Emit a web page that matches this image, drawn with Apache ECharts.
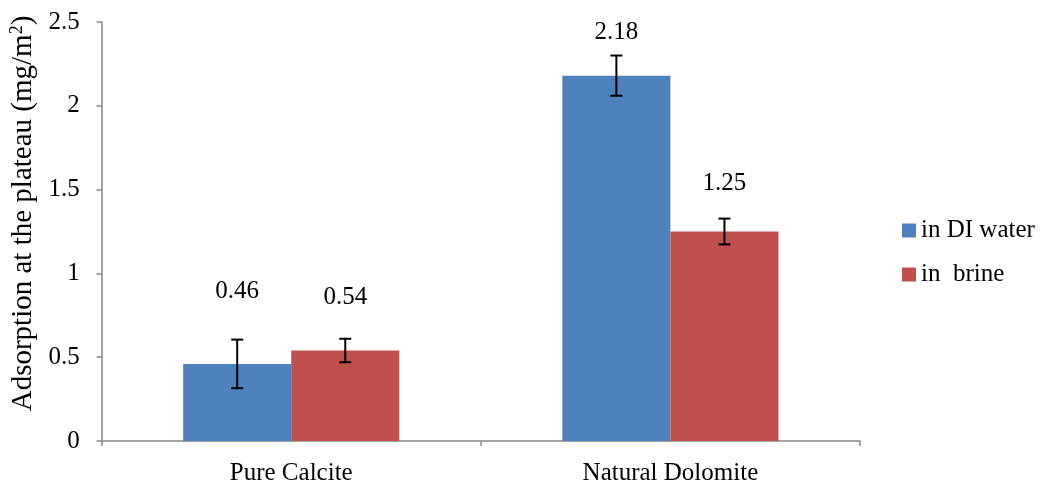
<!DOCTYPE html>
<html><head><meta charset="utf-8">
<script src="https://cdn.jsdelivr.net/npm/echarts@6/dist/echarts.min.js"></script>
<style>html,body{margin:0;padding:0;background:#fff}#c{width:1042px;height:488px}</style>
</head><body><div id="c"></div>
<script>
const categories = ['Pure Calcite', 'Natural Dolomite'];
const seriesNames = ['in DI water', 'in  brine'];
const diWater = [0.46, 2.18];
const brine = [0.54, 1.25];
const diWaterErr = [0.145, 0.12];
const brineErr = [0.07, 0.077];
const yTicks = [0, 0.5, 1, 1.5, 2, 2.5];

const FONT = '"Liberation Serif", "Times New Roman", serif';
const FS = 25;
const colors = ['#4F81BD', '#C0504D'];
// style: label gap above bar, [series][category]
const labelDist = [[60, 31], [41, 36]];

const chart = echarts.init(document.getElementById('c'), null, {renderer: 'canvas'});

function errSeries(vals, errs, seriesIndex) {
  return {
    type: 'custom',
    name: seriesNames[seriesIndex] + ' err',
    z: 10,
    data: vals.map((v, i) => [i, v - errs[i], v + errs[i]]),
    renderItem: function (params, api) {
      const ci = api.value(0);
      const lo = api.coord([ci, api.value(1)]);
      const hi = api.coord([ci, api.value(2)]);
      const bw = api.size([1, 0])[0];
      const barW = bw * 0.285;
      const x = lo[0] + (seriesIndex === 0 ? -barW / 2 : barW / 2);
      const cap = 6;
      const st = {stroke: '#000', lineWidth: 2};
      return {type: 'group', children: [
        {type: 'line', shape: {x1: x, y1: lo[1], x2: x, y2: hi[1]}, style: st},
        {type: 'line', shape: {x1: x - cap, y1: lo[1], x2: x + cap, y2: lo[1]}, style: st},
        {type: 'line', shape: {x1: x - cap, y1: hi[1], x2: x + cap, y2: hi[1]}, style: st}
      ]};
    }
  };
}

function barSeries(vals, si) {
  return {
    type: 'bar',
    name: seriesNames[si],
    data: vals.map((v, i) => ({
      value: v,
      label: {show: true, position: 'top', distance: labelDist[si][i],
        formatter: String(v), fontFamily: FONT, fontSize: FS, color: '#000'}
    })),
    itemStyle: {color: colors[si]},
    barGap: '0%',
    barCategoryGap: '43%'
  };
}

chart.setOption({
  animation: false,
  textStyle: {fontFamily: FONT},
  grid: {left: 100, right: 182, top: 22, bottom: 47},
  legend: {
    orient: 'vertical', left: 897, top: 213, itemGap: 19,
    itemWidth: 14, itemHeight: 14, icon: 'rect',
    data: seriesNames,
    textStyle: {fontFamily: FONT, fontSize: FS, color: '#000'}
  },
  xAxis: {
    type: 'category', data: categories,
    axisLine: {lineStyle: {color: '#868686', width: 1.5}},
    axisTick: {show: true, length: 5, lineStyle: {color: '#868686', width: 1.5}},
    axisLabel: {fontFamily: FONT, fontSize: FS, color: '#000', margin: 20}
  },
  yAxis: {
    type: 'value', min: yTicks[0], max: yTicks[yTicks.length - 1], interval: 0.5,
    name: '{a|Adsorption at the plateau (mg/m}{s|2}{a|)}',
    nameLocation: 'middle', nameGap: 61, nameRotate: 90,
    nameTextStyle: {
      padding: [0, 0, 0, 36],
      rich: {
        a: {fontFamily: FONT, fontSize: 29, color: '#000'},
        s: {fontFamily: FONT, fontSize: 18, color: '#000', verticalAlign: 'top', padding: [0, 0, 12, 0]}
      }
    },
    axisLine: {show: true, lineStyle: {color: '#868686', width: 1.5}},
    axisTick: {show: true, length: 5, lineStyle: {color: '#868686', width: 1.5}},
    splitLine: {show: false},
    axisLabel: {fontFamily: FONT, fontSize: FS, color: '#000', margin: 22,
      formatter: v => String(v)}
  },
  series: [
    barSeries(diWater, 0),
    barSeries(brine, 1),
    errSeries(diWater, diWaterErr, 0),
    errSeries(brine, brineErr, 1)
  ]
});
</script></body></html>
